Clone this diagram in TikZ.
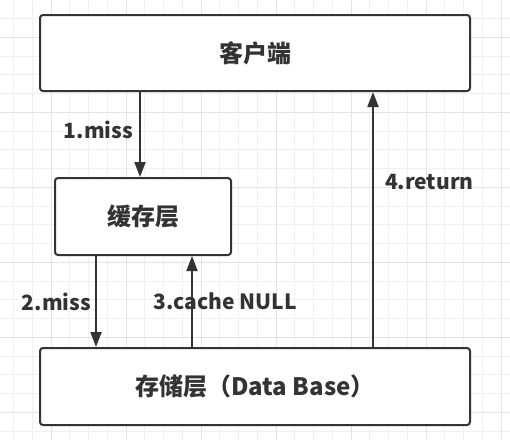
\documentclass[tikz,border=0pt]{standalone}
\usepackage{fontspec}
\setmainfont{Noto Sans CJK SC}
\usetikzlibrary{arrows.meta}
\definecolor{ink}{HTML}{333333}
\definecolor{gridminor}{HTML}{F0F0F0}
\definecolor{gridmajor}{HTML}{E3E3E3}
\tikzset{
    BX/.style ={rectangle, rounded corners=3pt, draw=ink, line width=2pt, fill=white, text=ink, font=\fontsize{24}{28}\selectfont\bfseries},
    AR/.style ={draw=ink, line width=2pt, -{Triangle[length=15pt,width=11pt]}},
    LB/.style ={text=ink, font=\fontsize{21}{25}\selectfont\bfseries, inner sep=3pt}}

\begin{document}
\begin{tikzpicture}[x=1pt,y=-1pt]
        \useasboundingbox (0,0) rectangle (510,440);
        \fill[white] (0,0) rectangle (510,440);
        % background grid
        \foreach \i in {0,...,26} \draw[gridminor, line width=1pt] (13.5+18.75*\i,0) -- (13.5+18.75*\i,440);
        \foreach \i in {0,...,22} \draw[gridminor, line width=1pt] (0,18.5+18.75*\i) -- (510,18.5+18.75*\i);
        \foreach \i in {0,...,6} \draw[gridmajor, line width=1pt] (51+75*\i,0) -- (51+75*\i,440);
        \foreach \i in {0,...,5} \draw[gridmajor, line width=1pt] (0,37.3+75*\i) -- (510,37.3+75*\i);
        % boxes
        \node[BX, minimum width=430pt, minimum height=76pt] (client) at (255,53) {客户端};
        \node[BX, minimum width=176pt, minimum height=77pt] (cache) at (143,216.5) {缓存层};
        \node[BX, minimum width=430pt, minimum height=77pt] (store) at (255,386.5) {存储层（Data Base）};
        \coordinate (miss1) at ([xshift=-3pt]cache.north);
        \coordinate (miss2) at ([xshift=-47pt]cache.south);
        \coordinate (null3) at ([xshift=49pt]cache.south);
        \coordinate (ret4) at (373,0);
        % arrows
        \draw[AR] (client.south -| miss1) -- (miss1) node[LB, pos=0.45, left=3pt]{1.miss};
        \draw[AR] (miss2) -- (miss2 |- store.north) node[LB, midway, left=1pt]{2.miss};
        \draw[AR] (null3 |- store.north) -- (null3) node[LB, midway, xshift=33pt]{3.cache NULL};
        \draw[AR] (store.north -| ret4) -- (client.south -| ret4) node[LB, pos=0.647, right=8pt]{4.return};
    \end{tikzpicture}
\end{document}
